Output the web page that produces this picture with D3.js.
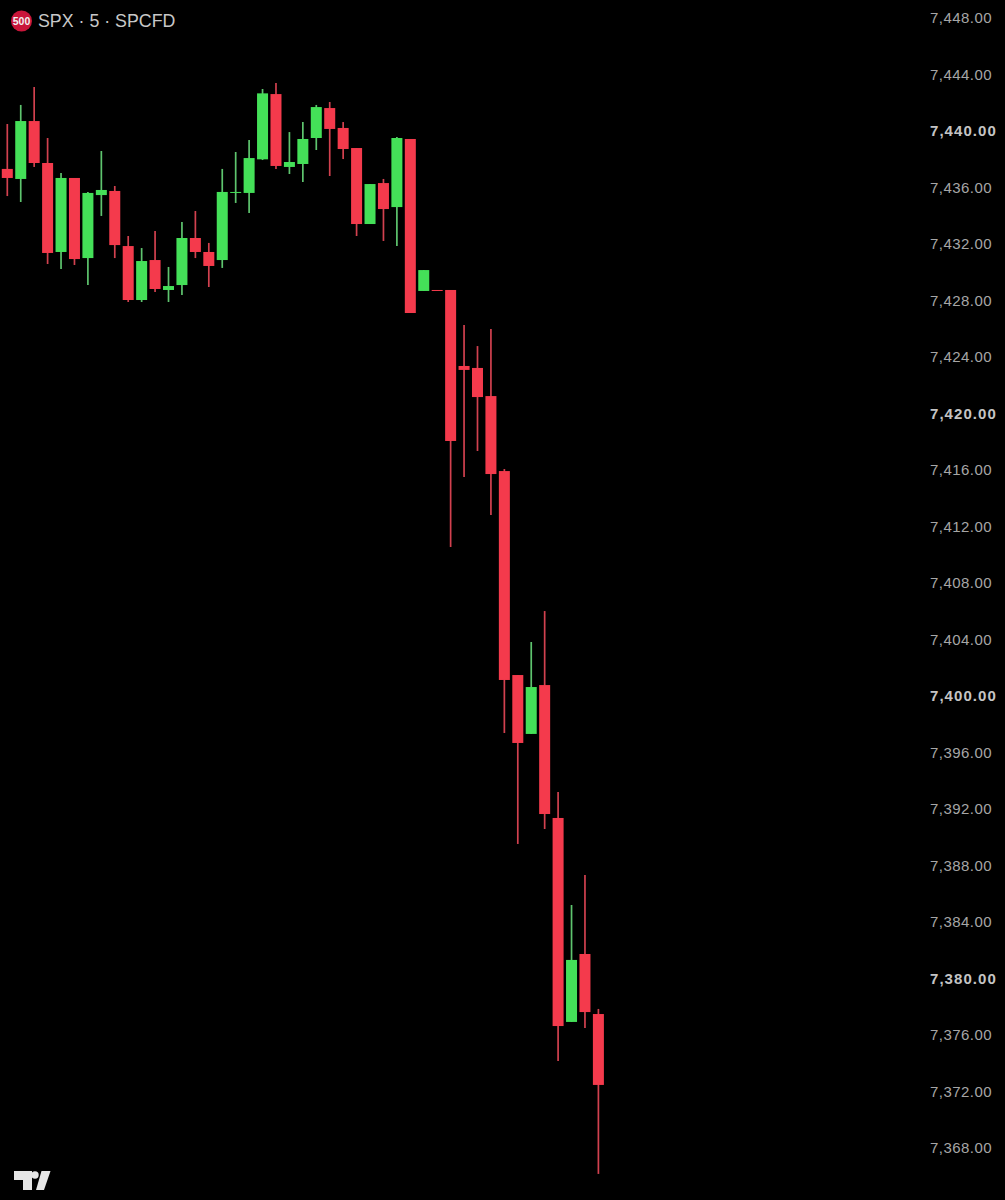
<!DOCTYPE html>
<html>
<head>
<meta charset="utf-8">
<script src="https://cdn.jsdelivr.net/npm/d3@7/dist/d3.min.js"></script>
<style>
html,body{margin:0;padding:0;background:#000;}
svg{display:block;}
</style>
</head>
<body>
<div id="chart"></div>
<script>
const openValues  = [7437.35,7436.64,7440.74,7437.77,7431.47,7436.71,7431.04,7435.50,7435.79,7431.89,7428.07,7430.90,7428.78,7429.13,7432.46,7431.47,7430.90,7435.65,7435.65,7438.03,7442.65,7437.49,7437.70,7439.54,7441.66,7440.25,7438.83,7433.45,7436.35,7434.65,7439.47,7428.71,7428.78,7428.78,7423.40,7423.26,7421.27,7415.96,7401.52,7397.35,7400.81,7391.40,7376.96,7381.77,7377.52];
const highValues  = [7440.53,7441.88,7443.15,7439.54,7437.06,7436.71,7435.72,7438.62,7436.14,7432.60,7431.75,7432.96,7430.41,7433.59,7434.37,7432.11,7437.35,7438.55,7439.40,7443.01,7443.43,7439.96,7440.67,7441.88,7442.09,7440.67,7438.83,7436.28,7436.64,7439.61,7439.47,7430.19,7428.78,7428.78,7426.30,7424.81,7426.02,7416.11,7401.52,7403.86,7406.05,7393.24,7385.24,7387.36,7377.88];
const lowValues   = [7435.43,7435.01,7437.49,7430.62,7430.27,7430.55,7429.13,7434.02,7431.04,7427.93,7427.93,7428.64,7427.93,7428.42,7431.04,7428.99,7430.34,7434.94,7434.23,7437.98,7437.35,7436.99,7436.42,7438.69,7436.85,7438.05,7432.60,7433.45,7432.25,7431.89,7427.15,7428.71,7428.71,7410.58,7415.54,7417.38,7412.85,7397.42,7389.56,7397.35,7390.62,7374.20,7376.96,7376.53,7366.20];
const closeValues = [7436.71,7440.74,7437.77,7431.40,7436.71,7430.97,7435.65,7435.86,7431.96,7428.07,7430.83,7428.85,7429.06,7432.46,7431.47,7430.48,7435.72,7435.72,7438.12,7442.70,7437.56,7437.84,7439.47,7441.73,7440.18,7438.76,7433.45,7436.28,7434.51,7439.54,7427.15,7430.19,7428.71,7418.09,7423.12,7421.20,7415.75,7401.17,7396.71,7400.67,7391.68,7376.67,7381.35,7377.66,7372.50];
const priceTicks  = [7448,7444,7440,7436,7432,7428,7424,7420,7416,7412,7408,7404,7400,7396,7392,7388,7384,7380,7376,7372,7368];
const boldTicks   = [7440,7420,7400,7380];
const titleText   = "SPX · 5 · SPCFD";
const badgeText   = "500";

const UP = "#44e058", DOWN = "#f43a4c", UPW = "#5ec46e", DOWNW = "#d2414f";
const W = 1005, H = 1200, bodyW = 11;

const candles = openValues.map((o,i)=>({i,o,h:highValues[i],l:lowValues[i],c:closeValues[i]}));

const x = d3.scaleLinear().domain([0,candles.length-1]).range([7.3,598.4]);
const y = d3.scaleLinear().domain([7448,7368]).range([18.5,1148.5]);

const svg = d3.select("#chart").append("svg").attr("width",W).attr("height",H);
svg.append("rect").attr("width",W).attr("height",H).attr("fill","#000");

const g = svg.append("g").selectAll("g").data(candles).join("g");
g.append("line")
  .attr("x1",d=>x(d.i)).attr("x2",d=>x(d.i))
  .attr("y1",d=>y(d.h)).attr("y2",d=>y(d.l))
  .attr("stroke",d=>d.c>=d.o?UPW:DOWNW).attr("stroke-width",1.7);
g.append("rect")
  .attr("x",d=>x(d.i)-bodyW/2).attr("width",bodyW)
  .attr("y",d=>y(Math.max(d.o,d.c)))
  .attr("height",d=>Math.max(1,Math.abs(y(d.o)-y(d.c))))
  .attr("fill",d=>d.c>=d.o?UP:DOWN);

const axis = d3.axisRight(y).tickValues(priceTicks).tickSize(0).tickPadding(0).tickFormat(d3.format(",.2f"));
const ag = svg.append("g").attr("transform","translate(930,-0.8)").call(axis);
ag.select(".domain").remove();
ag.selectAll("text")
  .attr("font-family","'Liberation Sans',Arial,sans-serif")
  .attr("font-size",15)
  .attr("letter-spacing",d=>boldTicks.includes(d)?1.05:0.45)
  .attr("fill",d=>boldTicks.includes(d)?"#c4c4c4":"#a6a6a6")
  .attr("font-weight",d=>boldTicks.includes(d)?"700":"400");

// header
svg.append("circle").attr("cx",21.5).attr("cy",21).attr("r",10.5).attr("fill","#c9163a");
svg.append("text").attr("x",21.5).attr("y",24.6).attr("text-anchor","middle")
  .attr("font-family","'Liberation Sans',Arial,sans-serif").attr("font-size",10.5).attr("font-weight",700)
  .attr("fill","#f2f2f2").text(badgeText);
svg.append("text").attr("x",38).attr("y",27)
  .attr("font-family","'Liberation Sans',Arial,sans-serif").attr("font-size",17.8)
  .attr("fill","#c8c8c8").text(titleText);

// TradingView mark
const logo = svg.append("g").attr("fill","#e6e6e6");
logo.append("path").attr("d","M14 1171H32V1190H23V1180H14Z");
logo.append("circle").attr("cx",35).attr("cy",1175).attr("r",3.7);
logo.append("path").attr("d","M41.5 1171H50.5L44 1190H36Z");
</script>
</body>
</html>
